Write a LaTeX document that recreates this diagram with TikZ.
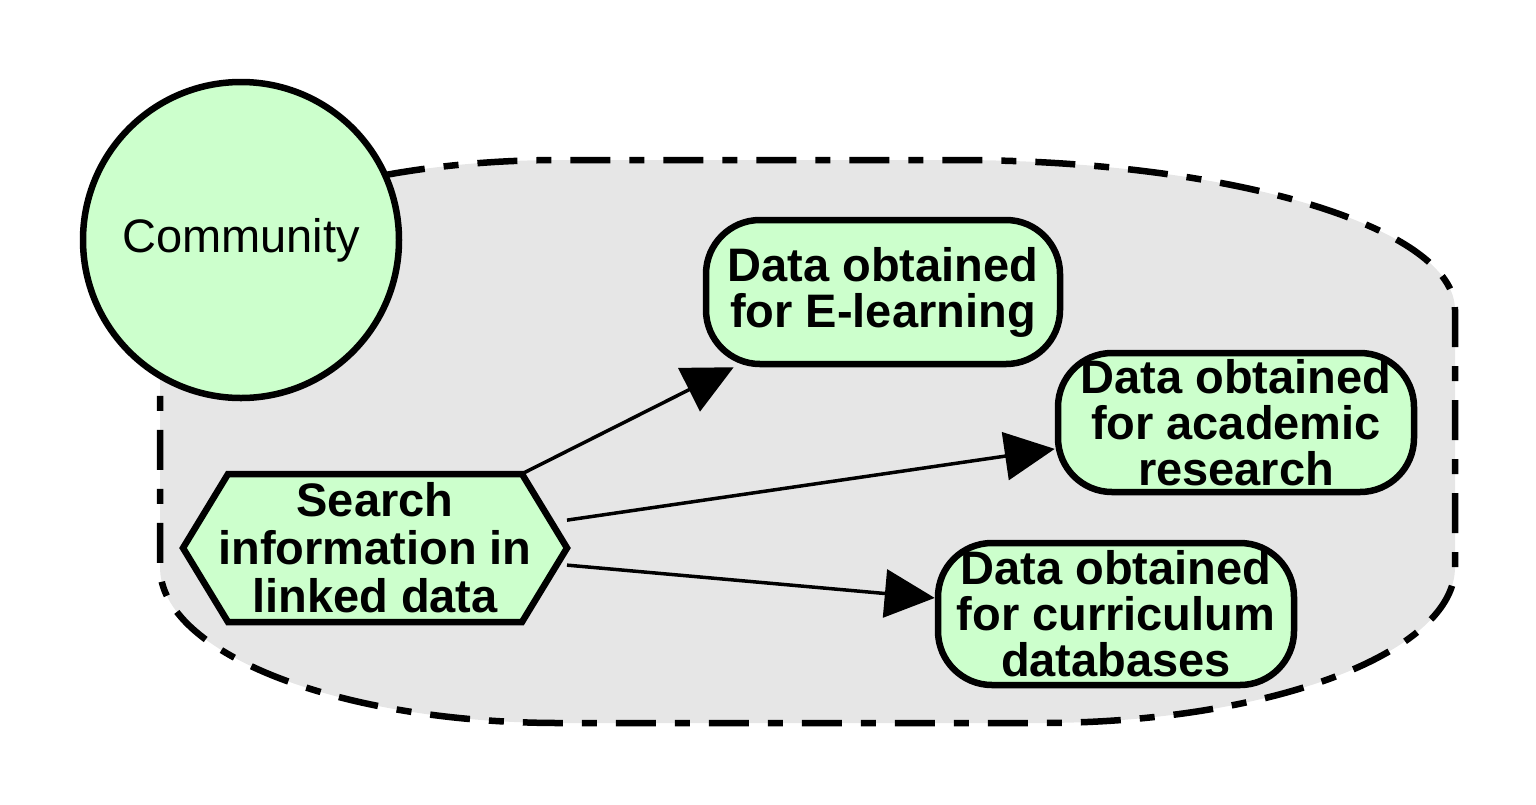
\documentclass[tikz,border=0pt]{standalone}
\usepackage{fontspec}
\setmainfont{Liberation Sans}
\usetikzlibrary{arrows.meta}
\definecolor{nodegreen}{HTML}{CCFFCC}
\definecolor{clustergray}{HTML}{E6E6E6}
\begin{document}
\begin{tikzpicture}[x=1pt,y=1pt,
  clusterline/.style={line width=6.5pt, draw=black, fill=clustergray,
    dash pattern=on 40pt off 19pt on 15pt off 19pt},
  datanode/.style={draw=black, line width=6.5pt, fill=nodegreen, rectangle,
    rounded corners=54pt, inner sep=0pt, align=center,
    font=\fontsize{47}{46}\selectfont\bfseries},
  circnode/.style={draw=black, line width=6.5pt, fill=nodegreen, circle,
    minimum size=316pt, inner sep=0pt, font=\fontsize{47}{47}\selectfont},
  hexbox/.style={rectangle, draw=none, inner sep=0pt, outer sep=0pt,
    minimum width=384pt, minimum height=148pt, align=center,
    font=\fontsize{47}{48}\selectfont\bfseries},
  hexline/.style={draw=black, line width=6.5pt, fill=nodegreen, line join=miter},
  edge/.style={line width=3.5pt, draw=black,
    -{Triangle[length=50pt,width=48pt]}}
]
\useasboundingbox (0,0) rectangle (1536,-804);
% cluster
\path[clusterline] (160,-310)
  arc[start angle=180, end angle=90, x radius=400pt, y radius=150pt]
  -- (955,-160)
  arc[start angle=90, end angle=0, x radius=500pt, y radius=150pt]
  -- (1455,-567)
  arc[start angle=0, end angle=-90, x radius=415pt, y radius=156pt]
  -- (560,-723)
  arc[start angle=270, end angle=180, x radius=400pt, y radius=156pt]
  -- cycle;
% community
\node[circnode] (comm) at (241,-240) {Community};
% hexagon
\coordinate (hexc) at (375,-548);
\path[hexline] (183,-548) -- (228,-474) -- (522,-474) -- (567,-548)
  -- (522,-622) -- (228,-622) -- cycle;
\node[hexbox] (hex) at (hexc) {Search\\information in\\linked data};
% data nodes
\node[datanode, minimum width=354pt, minimum height=144pt] (elearn) at (883,-292)
  {Data obtained\\for E-learning};
\node[datanode, minimum width=356pt, minimum height=139pt] (acad) at (1236,-422.5)
  {Data obtained\\for academic\\research};
\node[datanode, minimum width=356pt, minimum height=142pt] (curr) at (1116,-614)
  {Data obtained\\for curriculum\\databases};
% edges
\draw[edge] (hex) -- (elearn);
\draw[edge] (hex) -- (acad);
\draw[edge] (hex) -- (curr);
\end{tikzpicture}
\end{document}
